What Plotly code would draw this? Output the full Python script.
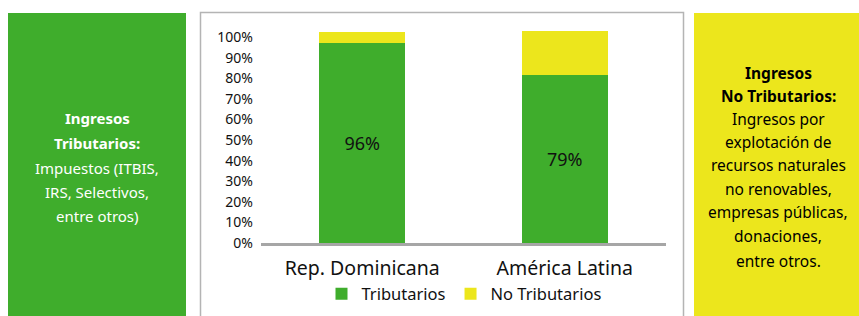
import plotly.graph_objects as go

# ---- data ----
categories = ["Rep. Dominicana", "América Latina"]
tributarios = [97.0, 81.5]          # drawn heights (%)
no_tributarios = [5.3, 21.4]        # drawn heights (%)
tributarios_labels = ["96%", "79%"]
y_ticks = [0, 10, 20, 30, 40, 50, 60, 70, 80, 90, 100]
y_tick_labels = [f"{v}%" for v in y_ticks]

left_lines = [("Ingresos", True), ("Tributarios:", True), ("Impuestos (ITBIS,", False),
              ("IRS, Selectivos,", False), ("entre otros)", False)]
right_lines = [("Ingresos", True), ("No Tributarios:", True), ("Ingresos por", False),
               ("explotación de", False), ("recursos naturales", False),
               ("no renovables,", False), ("empresas públicas,", False),
               ("donaciones,", False), ("entre otros.", False)]

GREEN = "#3FAD2C"
YELLOW = "#ECE61C"
FONT = "Noto Sans"

W, H = 859, 316
ML, MR, MT, MB = 261, 193, 27, 73
PW, PH = W - ML - MR, H - MT - MB


def px_x(px):
    return (px - ML) / PW


def px_y(py):
    return (H - MB - py) / PH


fig = go.Figure()
fig.add_trace(go.Bar(
    x=categories, y=tributarios, name="Tributarios", marker_color=GREEN,
    marker_line_width=0,
    text=tributarios_labels, textposition="inside", insidetextanchor="middle",
    textfont=dict(family=FONT, size=18, color="#111111"), cliponaxis=False,
))
fig.add_trace(go.Bar(
    x=categories, y=no_tributarios, name="No Tributarios", marker_color=YELLOW,
    marker_line_width=0, cliponaxis=False, textposition="none",
))

shapes = [
    dict(type="rect", xref="paper", yref="paper", x0=px_x(8), x1=px_x(186),
         y0=px_y(330), y1=px_y(13), fillcolor=GREEN, line=dict(width=0), layer="below"),
    dict(type="rect", xref="paper", yref="paper", x0=px_x(694), x1=px_x(870),
         y0=px_y(330), y1=px_y(13), fillcolor=YELLOW, line=dict(width=0), layer="below"),
    dict(type="rect", xref="paper", yref="paper", x0=px_x(200.5), x1=px_x(683.5),
         y0=px_y(330), y1=px_y(12.5), fillcolor="rgba(0,0,0,0)",
         line=dict(color="#B4B4B4", width=1.5), layer="below"),
]

annotations = []
left_y = [118, 143, 168, 192, 216]
for (txt, bold), py in zip(left_lines, left_y):
    annotations.append(dict(
        xref="paper", yref="paper", x=px_x(97), y=px_y(py), showarrow=False,
        xanchor="center", yanchor="middle",
        text=f"<b>{txt}</b>" if bold else txt,
        font=dict(family=FONT, size=15, color="white")))
right_y = [73, 96, 119, 142, 165, 189, 212, 236, 261]
for (txt, bold), py in zip(right_lines, right_y):
    annotations.append(dict(
        xref="paper", yref="paper", x=px_x(778), y=px_y(py), showarrow=False,
        xanchor="center", yanchor="middle",
        text=f"<b>{txt}</b>" if bold else txt,
        font=dict(family=FONT, size=15.5, color="black")))

fig.update_layout(
    width=W, height=H,
    margin=dict(l=ML, r=MR, t=MT, b=MB, autoexpand=False),
    barmode="stack", bargap=0.575,
    paper_bgcolor="white", plot_bgcolor="white",
    font=dict(family=FONT, color="#111111"),
    showlegend=True,
    legend=dict(orientation="h", traceorder="normal", x=px_x(464), y=px_y(294),
                xanchor="center", yanchor="middle",
                font=dict(family=FONT, size=16.5, color="#111111"),
                bgcolor="rgba(0,0,0,0)"),
    shapes=shapes, annotations=annotations,
    xaxis=dict(showline=True, linecolor="#A6A6A6", linewidth=2.5, ticks="",
               tickfont=dict(family=FONT, size=19.5, color="#111111"),
               ticklabelstandoff=6, showgrid=False, automargin=False),
    yaxis=dict(range=[0, PH / 20.6 * 10], tickvals=y_ticks, ticktext=y_tick_labels,
               showgrid=False, zeroline=False, showline=False, ticks="",
               tickfont=dict(family=FONT, size=14, color="#111111"),
               ticklabelstandoff=7, automargin=False),
)

fig.write_html(
    "out.html",
    config={"displayModeBar": False},
    post_script="document.body.style.margin='0';document.body.style.overflow='hidden';",
)
